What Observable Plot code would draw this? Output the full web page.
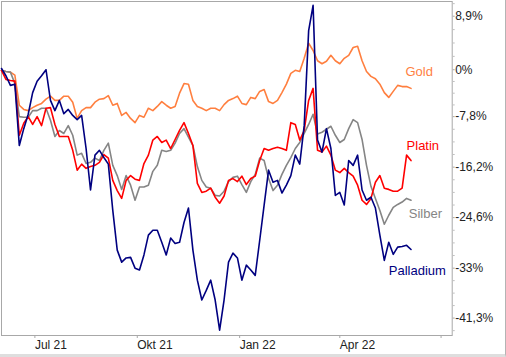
<!DOCTYPE html>
<html><head><meta charset="utf-8">
<script src="https://cdn.jsdelivr.net/npm/d3@7"></script>
<script src="https://cdn.jsdelivr.net/npm/@observablehq/plot@0.6"></script>
<style>
html,body{margin:0;padding:0;background:#fff;}
#wrap{width:505px;height:354px;border-right:1px solid #b4b4b4;border-bottom:3px solid #dedede;overflow:hidden;}
svg{display:block;}
</style></head><body><div id="wrap"></div>
<script>
const startDate = "2021-06-01";
const stepDays = 4;
const seriesNames = ["Gold", "Silber", "Platin", "Palladium"];
const seriesColors = ["#ff7f3f", "#858585", "#ff0000", "#000080"];

const gold = [-0.1,-0.3,-0.4,-0.9,-5.9,-6.6,-6.8,-6.3,-5.9,-5.6,
-4.9,-4.4,-5.1,-5.1,-4.4,-4.4,-5.4,-8.1,-6.8,-6.3,
-6.3,-5.4,-4.9,-4.8,-4.3,-5.9,-5.6,-7.6,-7.1,-8.1,
-8.8,-7.6,-7.9,-6.4,-6.8,-6.1,-5.3,-5.9,-6.4,-6.1,
-3.9,-2.3,-2.4,-5.1,-6.1,-6.4,-6.8,-6.4,-6.4,-6.8,
-5.8,-5.1,-4.8,-4.4,-5.6,-5.8,-4.6,-4.8,-3.6,-3.3,
-5.3,-5.6,-5.1,-3.8,-2.4,-0.6,-0.1,-0.3,1.9,4.4,
3.2,1.5,1.0,1.4,2.4,1.5,1.0,1.9,2.4,3.7,
3.9,1.5,-0.3,-1.1,-1.5,-2.4,-3.8,-4.6,-3.6,-2.6,
-2.8,-2.8,-3.1];

const platin = [-0.1,-1.6,-1.8,-1.9,-10.9,-8.9,-7.8,-9.1,-7.8,-9.3,
-6.4,-6.3,-9.1,-11.1,-11.1,-11.1,-13.4,-16.7,-15.7,-16.4,
-16.1,-15.9,-15.4,-14.1,-14.7,-18.4,-20.1,-21.4,-18.4,-17.6,
-18.2,-18.4,-15.6,-14.2,-11.7,-11.1,-12.1,-11.7,-13.1,-11.6,
-10.1,-8.8,-10.6,-12.6,-18.9,-20.4,-20.2,-19.7,-21.2,-22.2,
-21.0,-18.4,-18.1,-18.6,-17.7,-19.1,-18.1,-17.7,-15.1,-13.1,
-13.4,-13.1,-12.9,-13.1,-13.4,-8.8,-9.1,-11.7,-10.1,-5.1,
-3.1,-13.4,-13.7,-12.7,-14.2,-16.7,-17.1,-16.4,-17.1,-17.7,
-19.2,-21.7,-22.4,-21.4,-18.7,-17.6,-19.7,-19.9,-20.2,-20.2,
-19.7,-14.2,-15.1];

const silber = [-0.1,-0.3,-0.4,-2.3,-7.8,-7.9,-7.9,-6.8,-6.8,-6.4,
-6.4,-8.4,-11.1,-10.1,-10.6,-9.3,-10.9,-14.2,-13.9,-15.6,
-15.4,-14.7,-15.1,-13.4,-12.2,-15.9,-17.6,-19.9,-17.6,-19.2,
-21.7,-19.5,-19.5,-19.2,-16.9,-15.9,-13.4,-13.6,-13.4,-12.2,
-10.6,-9.8,-11.2,-12.6,-16.1,-18.4,-19.5,-19.7,-20.9,-21.0,
-20.2,-18.6,-17.9,-17.7,-19.1,-20.4,-18.6,-17.4,-14.7,-15.1,
-18.1,-20.1,-19.2,-17.4,-15.9,-14.6,-13.1,-12.1,-10.6,-9.1,
-7.4,-10.7,-10.4,-9.9,-9.4,-10.9,-12.1,-11.6,-9.8,-8.3,
-8.8,-11.6,-15.9,-19.4,-21.4,-23.4,-25.7,-24.2,-22.9,-22.4,
-22.0,-21.4,-21.7];

const palladium = [0.2,-1.0,-2.6,-2.4,-12.6,-9.8,-7.4,-3.8,-1.9,-1.0,
0.0,-5.1,-6.8,-5.1,-7.3,-6.6,-7.6,-8.3,-7.6,-13.1,
-20.0,-14.2,-13.4,-14.6,-15.7,-23.4,-30.0,-32.0,-31.3,-31.2,
-33.0,-33.3,-30.8,-27.5,-26.7,-26.7,-28.7,-30.8,-28.0,-28.9,
-28.7,-25.4,-23.0,-30.0,-35.0,-38.3,-36.7,-35.0,-38.3,-43.3,
-38.3,-32.0,-30.5,-31.3,-35.0,-32.5,-33.3,-34.2,-28.4,-22.5,
-16.7,-18.7,-18.4,-20.5,-19.2,-17.6,-14.2,-15.7,-9.3,6.5,
10.7,-11.7,-13.7,-9.8,-13.1,-20.9,-20.4,-22.5,-15.1,-15.9,
-14.2,-20.0,-21.7,-21.2,-23.0,-27.5,-31.7,-28.7,-30.7,-29.5,
-29.4,-29.2,-29.9];

const yTicks = [8.9, 0, -7.8, -16.2, -24.6, -33, -41.3];
const yTickLabels = ["8,9%", "0%", "-7,8%", "-16,2%", "-24,6%", "-33%", "-41,3%"];
const xTicks = ["2021-07-01", "2021-10-01", "2022-01-01", "2022-04-01", "2022-07-01"];
const xTickLabels = ["Jul 21", "Okt 21", "Jan 22", "Apr 22", ""];
const xDomain = ["2021-06-01", "2022-07-11"];
const yDomain = [-44.2, 11.35];

const labelNames = ["Gold", "Platin", "Silber", "Palladium"];
const labelDates = ["2022-05-30", "2022-05-31", "2022-06-02", "2022-05-15"];
const labelValues = [-0.3, -12.6, -24.0, -33.5];

const seriesData = {Gold: gold, Silber: silber, Platin: platin, Palladium: palladium};
const start = new Date(startDate);
const rows = [];
for (const name of seriesNames) {
  seriesData[name].forEach((v, i) => rows.push({date: d3.utcDay.offset(start, i * stepDays), value: v, series: name}));
}
const labels = labelNames.map((n, i) => ({series: n, date: new Date(labelDates[i]), value: labelValues[i]}));

const yLabelMap = new Map(yTicks.map((t, i) => [t, yTickLabels[i]]));
const xTickDates = xTicks.map(d => new Date(d));
const xLabelMap = new Map(xTickDates.map((d, i) => [+d, xTickLabels[i]]));

const minorTicks = [];
const majStep = (yTicks[0] - yTicks[yTicks.length - 1]) / (yTicks.length - 1);
const ext = [yTicks[0] + majStep, ...yTicks, yTicks[yTicks.length - 1] - majStep];
for (let i = 0; i < ext.length - 1; i++) {
  for (let k = 1; k < 4; k++) {
    const v = ext[i] + (ext[i + 1] - ext[i]) * k / 4;
    if (v < yDomain[1] && v > yDomain[0]) minorTicks.push(v);
  }
}

const chart = Plot.plot({
  width: 505,
  height: 354,
  marginLeft: 1,
  marginTop: 1,
  marginRight: 53.3,
  marginBottom: 19,
  style: {fontFamily: "'Liberation Sans', Arial, sans-serif", fontSize: "12px", color: "#222", background: "#fff", overflow: "visible"},
  x: {type: "utc", domain: xDomain.map(d => new Date(d)), label: null},
  y: {domain: yDomain, label: null},
  color: {domain: seriesNames, range: seriesColors},
  marks: [
    Plot.frame({stroke: "#a8a8a8", strokeOpacity: 1}),
    Plot.axisX({ticks: xTickDates, tickFormat: d => xLabelMap.get(+d), tickSize: 3, tickPadding: 2, textAnchor: "start", stroke: "#a8a8a8", fill: "#222", fontSize: 12, label: null}),
    Plot.axisY({anchor: "right", ticks: minorTicks, tickFormat: () => "", tickSize: 2, stroke: "#c0c0c0", label: null}),
    Plot.axisY({anchor: "right", ticks: yTicks, tickFormat: d => yLabelMap.get(d), tickSize: 2, tickPadding: 1, stroke: "#a8a8a8", fill: "#222", fontSize: 12, label: null}),
    Plot.line(rows, {x: "date", y: "value", z: "series", stroke: "series", strokeWidth: 1.6, strokeLinejoin: "round"}),
    Plot.text(labels, {x: "date", y: "value", text: "series", fill: "series", textAnchor: "start", fontSize: 13})
  ]
});
document.getElementById("wrap").appendChild(chart);
</script>
</body></html>
